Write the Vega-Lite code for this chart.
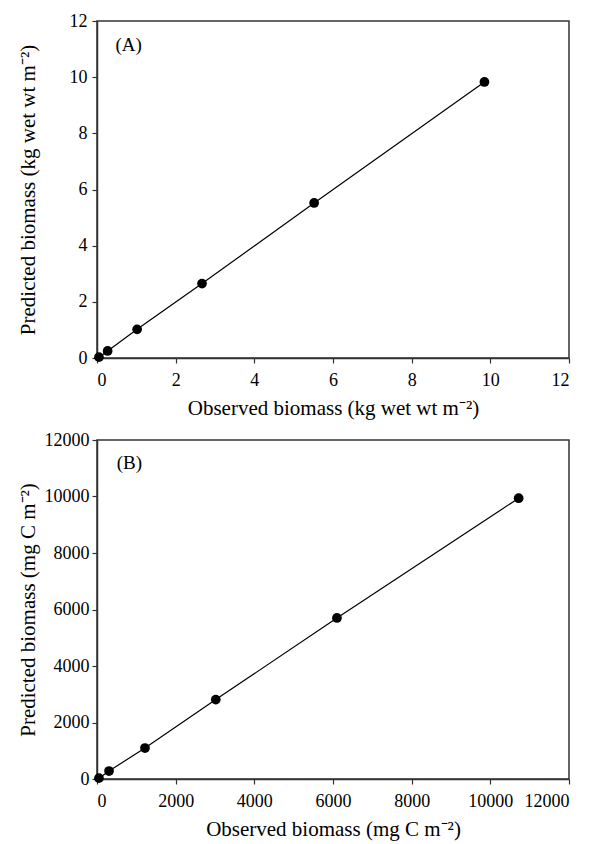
{
  "$schema": "https://vega.github.io/schema/vega-lite/v6.json",
  "padding": {"left": 16, "top": 11, "right": 20, "bottom": 2},
  "background": "white",
  "spacing": 11,
  "config": {
    "view": {"stroke": "#333", "strokeWidth": 1.5},
    "axis": {
      "domainColor": "#333", "tickColor": "#333", "domainWidth": 1.5, "tickWidth": 1.2, "tickSize": 5,
      "labelFont": "Liberation Serif", "titleFont": "Liberation Serif",
      "labelFontSize": 18, "titleFontSize": 21, "titleFontWeight": "normal",
      "labelColor": "black", "titleColor": "black", "grid": false, "labelPadding": 8
    },
    "text": {"font": "Liberation Serif"}
  },
  "vconcat": [
    {
      "width": 472, "height": 337,
      "data": {"values": [
        {"observed": 0.05, "predicted": 0.03},
        {"observed": 0.27, "predicted": 0.25},
        {"observed": 1.02, "predicted": 1.02},
        {"observed": 2.67, "predicted": 2.65},
        {"observed": 5.52, "predicted": 5.52},
        {"observed": 9.85, "predicted": 9.83}
      ]},
      "encoding": {
        "x": {"field": "observed", "type": "quantitative", "scale": {"domain": [0, 12], "nice": false},
              "axis": {"values": [0, 2, 4, 6, 8, 10, 12], "title": "Observed biomass (kg wet wt m⁻²)", "titlePadding": 8}},
        "y": {"field": "predicted", "type": "quantitative", "scale": {"domain": [0, 12], "nice": false},
              "axis": {"values": [0, 2, 4, 6, 8, 10, 12], "title": "Predicted biomass (kg wet wt m⁻²)", "titleX": -69, "titleBaseline": "middle", "labelPadding": 5}}
      },
      "layer": [
        {"mark": {"type": "line", "color": "black", "strokeWidth": 1.2}},
        {"mark": {"type": "point", "filled": true, "color": "black", "size": 95, "opacity": 1}},
        {
          "data": {"values": [{"observed": 0.47, "predicted": 11.15, "label": "(A)"}]},
          "mark": {"type": "text", "align": "left", "baseline": "middle", "fontSize": 19, "color": "black"},
          "encoding": {"text": {"field": "label"}}
        }
      ]
    },
    {
      "width": 472, "height": 339,
      "data": {"values": [
        {"observed": 50, "predicted": 30},
        {"observed": 306, "predicted": 283},
        {"observed": 1220, "predicted": 1097},
        {"observed": 3020, "predicted": 2810},
        {"observed": 6100, "predicted": 5700},
        {"observed": 10720, "predicted": 9940}
      ]},
      "encoding": {
        "x": {"field": "observed", "type": "quantitative", "scale": {"domain": [0, 12000], "nice": false},
              "axis": {"values": [0, 2000, 4000, 6000, 8000, 10000, 12000], "title": "Observed biomass (mg C m⁻²)", "titlePadding": 8, "format": "d"}},
        "y": {"field": "predicted", "type": "quantitative", "scale": {"domain": [0, 12000], "nice": false},
              "axis": {"values": [0, 2000, 4000, 6000, 8000, 10000, 12000], "title": "Predicted biomass (mg C m⁻²)", "titleX": -69, "titleBaseline": "middle", "format": "d", "labelPadding": 3}}
      },
      "layer": [
        {"mark": {"type": "line", "color": "black", "strokeWidth": 1.2}},
        {"mark": {"type": "point", "filled": true, "color": "black", "size": 95, "opacity": 1}},
        {
          "data": {"values": [{"observed": 500, "predicted": 11180, "label": "(B)"}]},
          "mark": {"type": "text", "align": "left", "baseline": "middle", "fontSize": 19, "color": "black"},
          "encoding": {"text": {"field": "label"}}
        }
      ]
    }
  ]
}
